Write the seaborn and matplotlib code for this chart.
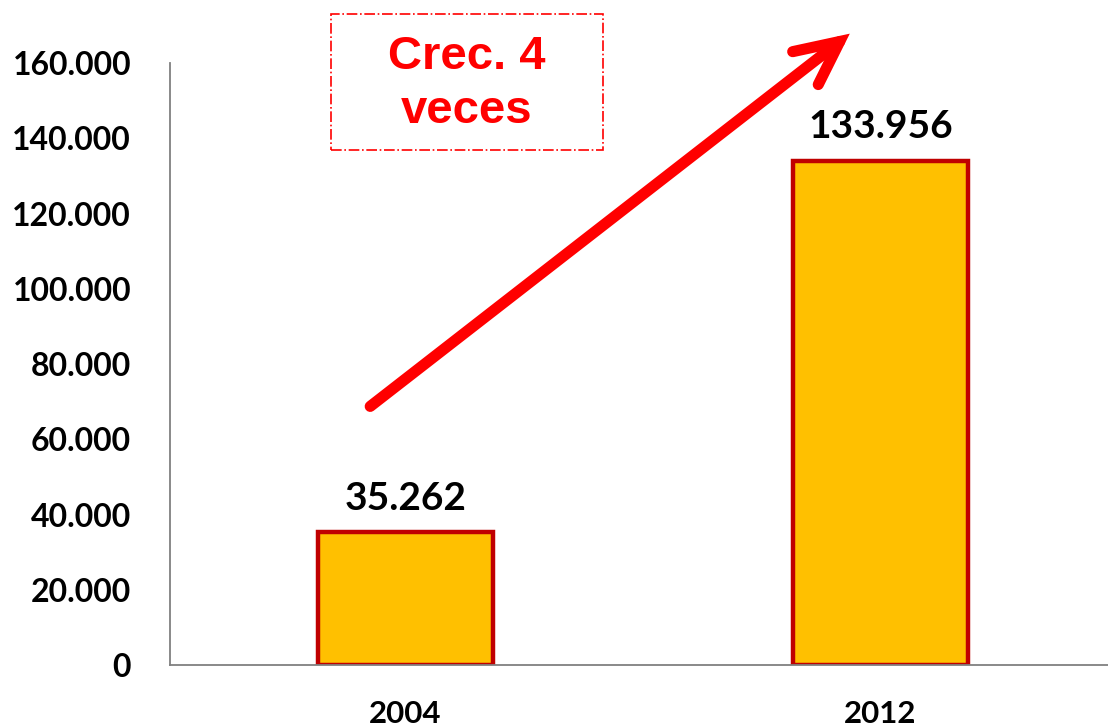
import matplotlib
matplotlib.use("Agg")
import matplotlib.pyplot as plt
import seaborn as sns
import pandas as pd
from matplotlib.ticker import FuncFormatter
from matplotlib.patches import Rectangle

years = ["2004", "2012"]
values = [35262, 133956]
label_texts = ["35.262", "133.956"]
yticks = [0, 20000, 40000, 60000, 80000, 100000, 120000, 140000, 160000]

sns.set_theme(style="white")
plt.rcParams['font.family'] = ['Lato', 'DejaVu Sans']

fig = plt.figure(figsize=(11.08, 7.26), dpi=100)
ax = fig.add_axes([0.1534, 0.084, 0.8466, 0.829])

df = pd.DataFrame({"year": years, "value": values})
sns.barplot(data=df, x="year", y="value", order=years, color="#FFC000",
            saturation=1, edgecolor="#C00000", linewidth=3.2, width=0.368, ax=ax)

ax.set_xlim(-0.496, 1.479)
ax.set_ylim(0, 160000)
ax.set_yticks(yticks)
ax.yaxis.set_major_formatter(FuncFormatter(
    lambda v, p: "0" if v == 0 else f"{int(v):,}".replace(",", ".")))
ax.set_xlabel("")
ax.set_ylabel("")
ax.tick_params(axis="both", length=0, colors="black")
ax.tick_params(axis="y", pad=28, labelsize=23)
ax.tick_params(axis="x", pad=25, labelsize=22.5)
for lab in ax.get_xticklabels() + ax.get_yticklabels():
    lab.set_fontweight("bold")
for s in ["top", "right"]:
    ax.spines[s].set_visible(False)
for s in ["left", "bottom"]:
    ax.spines[s].set_color("#808080")
    ax.spines[s].set_linewidth(1.3)

for i, (v, t) in enumerate(zip(values, label_texts)):
    ax.annotate(t, (i, v), xytext=(0, 12), textcoords="offset points",
                ha="center", va="bottom", fontsize=28, fontweight="bold",
                color="black")

# growth arrow
ax.annotate("", xy=(0.94, 168300), xytext=(-0.079, 68300),
            annotation_clip=False,
            arrowprops=dict(arrowstyle="->,head_length=2.6,head_width=1.25",
                            color="#FF0000", lw=8, capstyle="round",
                            joinstyle="miter"))

# dashed box with text
rect = Rectangle((0.2987, 0.7934), 0.2455, 0.1873, transform=fig.transFigure,
                 fill=False, edgecolor="#FF0000", linestyle="-.", linewidth=1.2)
fig.patches.append(rect)
fig.text(0.4215, 0.884, "Crec. 4\nveces", ha="center", va="center",
         fontsize=34, fontweight="bold", color="#FF0000",
         family=["Liberation Sans", "DejaVu Sans"], linespacing=1.3)

fig.savefig("out.png", dpi=100)
